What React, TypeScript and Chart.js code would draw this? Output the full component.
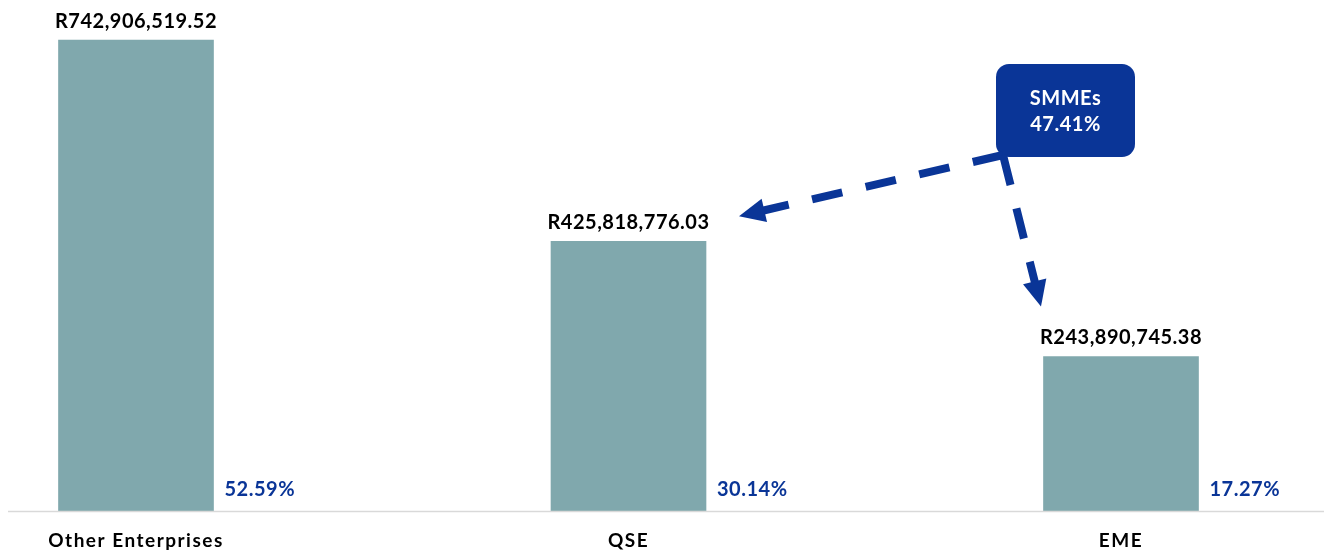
import React, { useEffect, useRef } from 'react';
import { Chart, registerables } from 'chart.js';

Chart.register(...registerables);

const categories = ['Other Enterprises', 'QSE', 'EME'];
const values = [742906519.52, 425818776.03, 243890745.38];
const valueLabels = ['R742,906,519.52', 'R425,818,776.03', 'R243,890,745.38'];
const shareLabels = ['52.59%', '30.14%', '17.27%'];
const calloutLines = ['SMMEs', '47.41%'];

const BAR_COLOR = '#80a8ad';
const BLUE = '#0a3597';
const FONT = 'Lato, "DejaVu Sans", sans-serif';

function drawArrow(ctx: CanvasRenderingContext2D, x0: number, y0: number, x1: number, y1: number) {
  const dx = x1 - x0;
  const dy = y1 - y0;
  const len = Math.hypot(dx, dy);
  const ux = dx / len;
  const uy = dy / len;
  const headLen = 26;
  const headW = 12;
  const bx = x1 - ux * headLen;
  const by = y1 - uy * headLen;
  ctx.save();
  ctx.strokeStyle = BLUE;
  ctx.fillStyle = BLUE;
  ctx.lineWidth = 8;
  ctx.setLineDash([31, 24]);
  ctx.beginPath();
  ctx.moveTo(x0, y0);
  ctx.lineTo(bx + ux * 4, by + uy * 4);
  ctx.stroke();
  ctx.setLineDash([]);
  ctx.beginPath();
  ctx.moveTo(x1, y1);
  ctx.lineTo(bx - uy * headW, by + ux * headW);
  ctx.lineTo(bx + uy * headW, by - ux * headW);
  ctx.closePath();
  ctx.fill();
  ctx.restore();
}

const spacing = {
  id: 'spacing',
  beforeDraw(chart: any) {
    (chart.ctx as any).letterSpacing = '1.5px';
  },
};

const annotations = {
  id: 'annotations',
  afterDatasetsDraw(chart: any) {
    const ctx: any = chart.ctx;
    const yScale = chart.scales.y;
    const meta = chart.getDatasetMeta(0);
    const baseY = Math.round(yScale.getPixelForValue(0)) + 0.5;

    ctx.save();
    // baseline
    ctx.strokeStyle = '#d9d9d9';
    ctx.lineWidth = 1.5;
    ctx.beginPath();
    ctx.moveTo(8, baseY);
    ctx.lineTo(chart.width, baseY);
    ctx.stroke();

    meta.data.forEach((bar: any, i: number) => {
      // value label above bar
      ctx.letterSpacing = '0.5px';
      ctx.fillStyle = '#000';
      ctx.font = `bold 20px ${FONT}`;
      ctx.textAlign = 'center';
      ctx.textBaseline = 'middle';
      ctx.fillText(valueLabels[i], bar.x, bar.y - 19);
      // share label
      ctx.letterSpacing = '0.5px';
      ctx.fillStyle = BLUE;
      ctx.font = `bold 20px ${FONT}`;
      ctx.textAlign = 'left';
      ctx.fillText(shareLabels[i], bar.x + bar.width / 2 + 11, baseY - 22);
    });

    // callout box
    const eme = meta.data[2];
    const qse = meta.data[1];
    const boxL = eme.x - 125;
    const boxT = 64;
    const boxW = 139;
    const boxH = 93;
    ctx.fillStyle = BLUE;
    ctx.beginPath();
    ctx.roundRect(boxL, boxT, boxW, boxH, 13);
    ctx.fill();
    ctx.fillStyle = '#fff';
    ctx.letterSpacing = '0.5px';
    ctx.font = `bold 20px ${FONT}`;
    ctx.textAlign = 'center';
    ctx.textBaseline = 'middle';
    ctx.fillText(calloutLines[0], boxL + boxW / 2, boxT + 35);
    ctx.fillText(calloutLines[1], boxL + boxW / 2, boxT + 61);
    ctx.letterSpacing = '0px';

    const ox = boxL + 7;
    const oy = boxT + boxH - 2;
    drawArrow(ctx, ox, oy, qse.x + qse.width / 2 + 33, qse.y - 25);
    drawArrow(ctx, ox, oy, eme.x - 80, eme.y - 50);
    ctx.restore();
  },
};

export default function App() {
  const ref = useRef<HTMLCanvasElement>(null);
  useEffect(() => {
    document.body.style.margin = '0';
    const chart = new Chart(ref.current!, {
      type: 'bar',
      data: {
        labels: categories,
        datasets: [
          {
            data: values,
            backgroundColor: BAR_COLOR,
            barThickness: 155,
            clip: false as any,
          },
        ],
      },
      options: {
        animation: false,
        responsive: false,
        layout: { padding: { top: 4, bottom: -17, left: 136, right: 203 } },
        plugins: { legend: { display: false }, tooltip: { enabled: false } },
        scales: {
          x: {
            offset: false,
            grid: { display: false, drawTicks: false },
            border: { display: false },
            ticks: {
              padding: 18,
              color: '#000',
              font: { family: FONT, size: 19, weight: 'bold' },
              maxRotation: 0,
              autoSkip: false,
            },
          },
          y: { display: false, min: 0, max: 800000000 },
        },
      },
      plugins: [spacing, annotations],
    });
    return () => chart.destroy();
  }, []);
  return (
    <div style={{ width: 1324, height: 553 }}>
      <canvas ref={ref} width={1324} height={553} style={{ display: 'block' }} />
    </div>
  );
}
